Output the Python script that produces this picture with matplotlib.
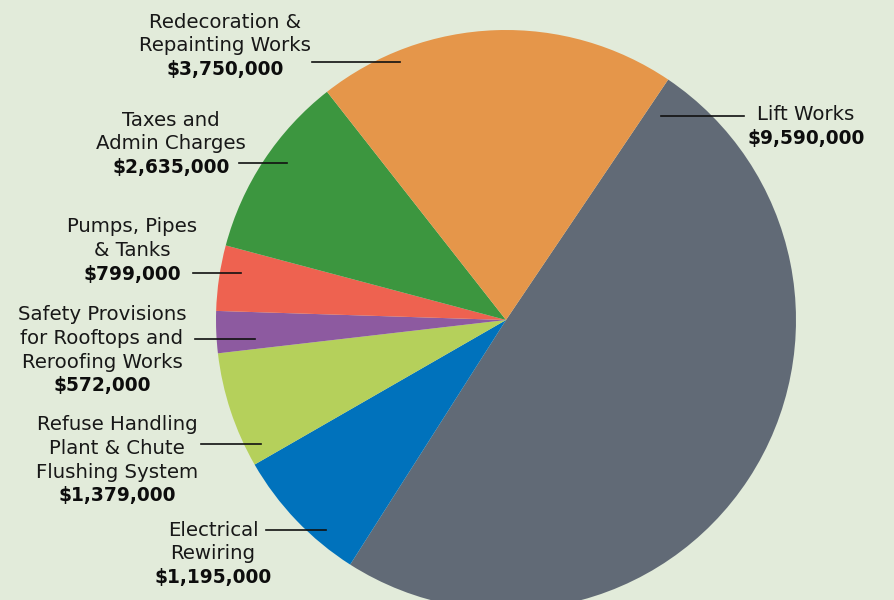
#!/usr/bin/env python
"""
Cost breakdown pie chart (infographic style), saved to out.png
"""

import matplotlib

matplotlib.use("Agg")
import matplotlib.pyplot as plt

# ============================================================================
# Data
# ============================================================================
categories = [
    "Lift Works",
    "Electrical\nRewiring",
    "Refuse Handling\nPlant & Chute\nFlushing System",
    "Safety Provisions\nfor Rooftops and\nReroofing Works",
    "Pumps, Pipes\n& Tanks",
    "Taxes and\nAdmin Charges",
    "Redecoration &\nRepainting Works",
]
amounts = ["$9,590,000", "$1,195,000", "$1,379,000", "$572,000",
           "$799,000", "$2,635,000", "$3,750,000"]
# slice sizes as drawn in the infographic (degrees)
slice_deg = [178.5, 27.6, 23.3, 8.4, 13.1, 37.0, 72.1]
colors = ["#616a76", "#0072bc", "#b5d05b", "#8d5aa0",
          "#ee6250", "#3c963f", "#e5964a"]

BG = "#e2ebda"
FONT = ["DejaVu Sans"]
FS = 14.2
FS_AMT = 13.4

# label layout in pixel coords (x centre, y of first line, leader line)
label_xy = [(806, 115), (213, 530), (117, 425), (102, 315),
            (132, 227), (171, 120), (225, 22)]
leaders = [((661, 744), 116), ((266, 326), 530), ((201, 261), 444),
           ((195, 255), 339), ((193, 241), 273), ((239, 287), 163),
           ((312, 400), 62)]
LINE_H = 23.6


def main():
    fig = plt.figure(figsize=(8.94, 6.0), dpi=100)
    fig.patch.set_facecolor(BG)
    ax = fig.add_axes([0, 0, 1, 1])
    ax.set_facecolor(BG)

    ax.pie(
        slice_deg,
        colors=colors,
        startangle=56.0,
        counterclock=False,
        center=(506, 600 - 320),
        radius=290,
        frame=True,
        wedgeprops={"linewidth": 0},
    )
    ax.set_xlim(0, 894)
    ax.set_ylim(0, 600)
    ax.set_aspect("equal")
    ax.axis("off")

    # labels: normal lines + bold amount
    for name, amt, (x, y0), ((x1, x2), ly) in zip(categories, amounts, label_xy, leaders):
        lines = name.split("\n")
        for i, ln in enumerate(lines):
            ax.text(x, 600 - (y0 + i * LINE_H), ln, ha="center", va="center",
                    fontsize=FS, family=FONT, color="#181818")
        ax.text(x, 600 - (y0 + len(lines) * LINE_H), amt, ha="center", va="center",
                fontsize=FS_AMT, family=FONT, fontweight="bold", color="#0d0d0d")
        ax.plot([x1, x2], [600 - ly, 600 - ly], color="#111111", linewidth=1.2)

    plt.savefig("out.png", dpi=100, facecolor=BG)
    plt.close()


if __name__ == "__main__":
    main()
